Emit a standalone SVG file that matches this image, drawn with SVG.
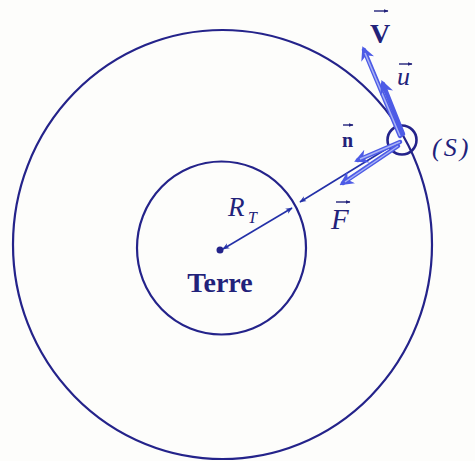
<svg xmlns="http://www.w3.org/2000/svg" width="475" height="461" viewBox="0 0 475 461">
<style>
.orbit{fill:none;stroke:#24238a;stroke-width:2.2}
.thin{fill:none;stroke:#2330a8;stroke-width:1.6}
.vec{fill:none;stroke:#4d5be6;stroke-width:4.5;stroke-linecap:round}
.vecin{fill:none;stroke:#a9b3f5;stroke-width:1.5}
.lbl{font-family:"Liberation Serif","DejaVu Serif",serif;fill:#22227a}
.it{font-style:italic}
.bd{font-weight:bold}
.ov{fill:none;stroke:#22227a;stroke-width:1.4}
</style>
<defs>
<marker id="ah" viewBox="0 0 10 10" refX="9" refY="5" markerWidth="7" markerHeight="7" orient="auto-start-reverse" markerUnits="userSpaceOnUse">
<path d="M0,1 L10,5 L0,9 L3,5 z" fill="#2330a8"/>
</marker>
<marker id="ahv" viewBox="0 0 10 10" refX="7" refY="5" markerWidth="14" markerHeight="14" orient="auto" markerUnits="userSpaceOnUse">
<path d="M0,0 L10,5 L0,10 L3,5 z" fill="#4d5be6"/>
</marker>
<marker id="ov" viewBox="0 0 10 10" refX="9" refY="5" markerWidth="5" markerHeight="5" orient="auto" markerUnits="userSpaceOnUse">
<path d="M0,1 L10,5 L0,9 z" fill="#22227a"/>
</marker>
</defs>
<rect width="475" height="461" fill="#fdfdfb"/>

<g id="orbit">
<ellipse class="orbit" cx="222.5" cy="244.5" rx="209.5" ry="214.5"/>
</g>

<g id="terre">
<ellipse class="orbit" cx="221.5" cy="248" rx="84.5" ry="86.5" stroke-width="2.6"/>
<circle cx="220" cy="250" r="3.5" fill="#24238a"/>
<text class="lbl bd" x="220" y="292" font-size="28" text-anchor="middle">Terre</text>
</g>

<g id="satellite">
<circle cx="402" cy="140" r="14.5" fill="none" stroke="#24238a" stroke-width="2.6"/>
<text class="lbl it" x="432" y="156" font-size="26" letter-spacing="3">(S)</text>
</g>

<g id="connectors">
<!-- radius R_T -->
<line class="thin" x1="223" y1="249" x2="292" y2="208" marker-start="url(#ah)" marker-end="url(#ah)"/>
<!-- line S to Earth surface -->
<line class="thin" x1="396" y1="143" x2="300" y2="202" marker-end="url(#ah)"/>
<!-- velocity V -->
<line class="vec" x1="400" y1="136" x2="364" y2="50" marker-end="url(#ahv)"/>
<line class="vecin" x1="400" y1="136" x2="365" y2="53"/>
<!-- unit u -->
<line class="vec" x1="403" y1="134" x2="383" y2="84" marker-end="url(#ahv)" stroke-width="3"/>
<!-- unit n -->
<line class="vec" x1="400" y1="142" x2="358" y2="160" marker-end="url(#ahv)"/>
<line class="vecin" x1="400" y1="142" x2="360" y2="159"/>
<!-- force F -->
<line class="vec" x1="398" y1="146" x2="343" y2="183" marker-end="url(#ahv)"/>
<line class="vecin" x1="398" y1="146" x2="345" y2="182"/>
</g>

<g id="labels">
<text class="lbl it" x="228" y="216" font-size="27">R</text>
<text class="lbl it" x="248" y="223" font-size="16">T</text>
<text class="lbl bd" x="370" y="43" font-size="28">V</text>
<line class="ov" x1="374" y1="11" x2="388" y2="11" marker-end="url(#ov)"/>
<text class="lbl it" x="397" y="85" font-size="26">u</text>
<line class="ov" x1="399" y1="64" x2="412" y2="64" marker-end="url(#ov)"/>
<text class="lbl bd" x="342" y="147" font-size="20">n</text>
<line class="ov" x1="343" y1="125" x2="353" y2="125" marker-end="url(#ov)"/>
<text class="lbl it" x="331" y="229" font-size="29">F</text>
<line class="ov" x1="336" y1="202" x2="350" y2="202" marker-end="url(#ov)"/>
</g>
</svg>
